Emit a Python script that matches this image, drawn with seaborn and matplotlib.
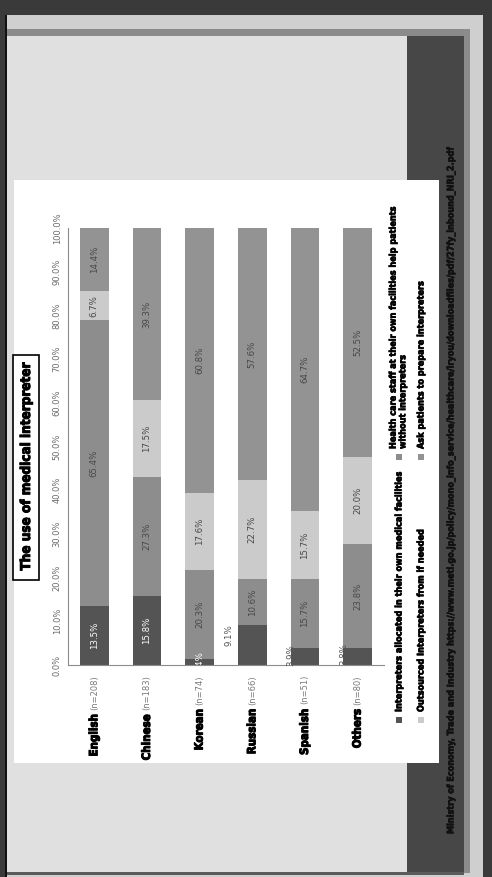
import numpy as np
import pandas as pd
import matplotlib
matplotlib.use("Agg")
import matplotlib.pyplot as plt
import matplotlib.patheffects as pe
from matplotlib.patches import Rectangle
import seaborn as sns

# -----------------
# data
# -----------------
languages = ["English", "Chinese", "Korean", "Russian", "Spanish", "Others"]
sample_sizes = ["(n=208)", "(n=183)", "(n=74)", "(n=66)", "(n=51)", "(n=80)"]

allocated = [13.5, 15.8, 1.4, 9.1, 3.9, 3.8]
staff_help = [65.4, 27.3, 20.3, 10.6, 15.7, 23.8]
outsourced = [6.7, 17.5, 17.6, 22.7, 15.7, 20.0]
ask_patients = [14.4, 39.3, 60.8, 57.6, 64.7, 52.5]

series_names = [
    "Interpreters allocated in their own medical facilities",
    "Health care staff at their own facilities help patients\nwithout interpreters",
    "Outsourced Interpreters from if needed",
    "Ask patients to prepare interpreters",
]
series_colors = ["#545454", "#8d8d8d", "#cbcbcb", "#939393"]
tick_values = [0, 10, 20, 30, 40, 50, 60, 70, 80, 90, 100]

title = "The use of medical interpreter"
source = ("Ministry of Economy, Trade and Industry "
          "https://www.meti.go.jp/policy/mono_info_service/healthcare/iryou/"
          "downloadfiles/pdf/27fy_inbound_NRI_2.pdf")

W, H = 492, 877
HEAVY = dict(family=["DejaVu Sans"], fontstretch="condensed", fontweight="bold")

sns.set_style("white")
plt.rcParams["font.family"] = ["DejaVu Sans"]

fig = plt.figure(figsize=(W / 100, H / 100), dpi=100)
fig.patch.set_facecolor("#3a3a3a")


def fx(x):
    return x / W


def fy(y):
    return 1 - y / H


def px_rect(x0, y0, x1, y1, color, edge="none", z=-5):
    fig.add_artist(Rectangle((fx(x0), fy(y1)), (x1 - x0) / W, (y1 - y0) / H,
                             transform=fig.transFigure, facecolor=color,
                             edgecolor=edge, linewidth=1.2, zorder=z))


def fit_length(texts, target, ref_txt):
    # scale font sizes so that ref_txt spans `target` pixels along its (rotated) length
    renderer = fig.canvas.get_renderer()
    length = ref_txt.get_window_extent(renderer).height
    scale = target / length
    for t in texts:
        t.set_fontsize(t.get_fontsize() * scale)


def thicken(texts, lw, color="black"):
    for t in texts:
        t.set_path_effects([pe.withStroke(linewidth=lw, foreground=color)])


# slide background layers
px_rect(7, 15, 483, 877, "#cfcfcf")
px_rect(7, 36, 407, 872, "#e0e0e0")
px_rect(5, 15, 7, 877, "#111111")
px_rect(7, 29, 470, 36, "#8a8a8a")
px_rect(464, 29, 470, 873, "#8c8c8c")
px_rect(407, 36, 464, 873, "#474747")
px_rect(7, 872, 464, 875, "#5a5a5a")
px_rect(14, 180, 439, 763, "#ffffff")

# -----------------
# stacked bars (drawn rotated: bars grow upwards)
# -----------------
ax = fig.add_axes([fx(68), fy(665), (384 - 68) / W, (665 - 228) / H])
ax.patch.set_alpha(0)

cols = ["allocated", "staff_help", "outsourced", "ask_patients"]
df = pd.DataFrame({"allocated": allocated, "staff_help": staff_help,
                   "outsourced": outsourced, "ask_patients": ask_patients},
                  index=languages)
cum = df.cumsum(axis=1)

# draw totals first, then overlay the lower stacks
for col, color in reversed(list(zip(cols, series_colors))):
    sns.barplot(x=languages, y=cum[col].values, order=languages, color=color,
                saturation=1, width=0.55, linewidth=0, errorbar=None, ax=ax)

# segment labels; a few small ones sit beside the bar
outside = {"Russian": (-0.44, 6.9), "Spanish": (-0.27, 2.2), "Others": (-0.27, 2.4)}
for i, lang in enumerate(languages):
    bottom = 0.0
    for j, col in enumerate(cols):
        v = df.loc[lang, col]
        if j == 0 and lang in outside:
            dx, ypos = outside[lang]
            ax.text(i + dx, ypos, f"{v:.1f}%", rotation=90, ha="center",
                    va="center", fontsize=6.2, color="#555555")
        else:
            color = "white" if j == 0 else "#474747"
            ax.text(i, bottom + v / 2, f"{v:.1f}%", rotation=90, ha="center",
                    va="center", fontsize=6.2, color=color, clip_on=True)
        bottom += v

ax.set_xlim(-0.5, 5.5)
ax.set_ylim(0, 100)
ax.set_xlabel("")
ax.set_ylabel("")
ax.set_yticks(tick_values)
ax.set_yticklabels([f"{v:.1f}%" for v in tick_values], rotation=90,
                   va="center", color="#6a6a6a", fontsize=6)
ax.tick_params(axis="y", direction="in", length=4, pad=4.5, color="#999999")
ax.set_xticks(range(len(languages)))
ax.set_xticklabels([])
ax.set_xticks(np.arange(-0.5, len(languages), 1), minor=True)
ax.tick_params(axis="x", which="major", length=0)
ax.tick_params(axis="x", which="minor", direction="out", length=4,
               color="#999999")
for side in ["top", "right"]:
    ax.spines[side].set_visible(False)
for side in ["left", "bottom"]:
    ax.spines[side].set_color("#8c8c8c")
    ax.spines[side].set_linewidth(0.8)

# category labels: name + sample size, right-aligned to the axis
name_texts = []
for i, (lang, n) in enumerate(zip(languages, sample_sizes)):
    n_txt = ax.text(i, -0.023, n, transform=ax.get_xaxis_transform(),
                    rotation=90, ha="center", va="top", fontsize=6,
                    color="#7a7a7a")
    name_texts.append(ax.annotate(lang, xy=(0.5, 0), xycoords=n_txt,
                                  xytext=(0, -3), textcoords="offset points",
                                  rotation=90, ha="center", va="top",
                                  fontsize=9, color="black", **HEAVY))

# title in a framed box
px_rect(13, 355, 39, 580, "white", edge="black", z=2)
title_txt = fig.text(fx(26.5), fy(467), title, rotation=90, ha="center",
                     va="center", fontsize=12, color="black", zorder=3,
                     **HEAVY)

# legend (rotated by hand)
legend_spots = [(399, 720, 712, 399), (399, 457, 449, 398),
                (421, 720, 712, 421), (421, 457, 449, 421)]
legend_texts = []
for name, color, (px, py, ty, tx) in zip(series_names, series_colors,
                                         legend_spots):
    fig.add_artist(Rectangle((fx(px - 3), fy(py + 3)), 6 / W, 6 / H,
                             transform=fig.transFigure, facecolor=color,
                             edgecolor="none"))
    legend_texts.append(fig.text(fx(tx), fy(ty), name, rotation=90,
                                 ha="center", va="bottom", fontsize=7.5,
                                 color="black", multialignment="left",
                                 linespacing=1.1, **HEAVY))

# source line on the dark band
source_txt = fig.text(fx(451), fy(834), source, rotation=90, ha="center",
                      va="bottom", fontsize=7.3, color="#111111", **HEAVY)

# size the heavy texts to the lengths seen on the slide
fig.canvas.draw()
fit_length(name_texts, 43, name_texts[0])
fit_length([title_txt], 208, title_txt)
fit_length(legend_texts, 240, legend_texts[0])
fit_length([source_txt], 687, source_txt)

# the slide uses a very heavy condensed face; thicken the strokes a little
thicken(name_texts + [title_txt], 0.7)
thicken(legend_texts, 0.45)
thicken([source_txt], 0.45, "#111111")

fig.savefig("out.png", dpi=100)
